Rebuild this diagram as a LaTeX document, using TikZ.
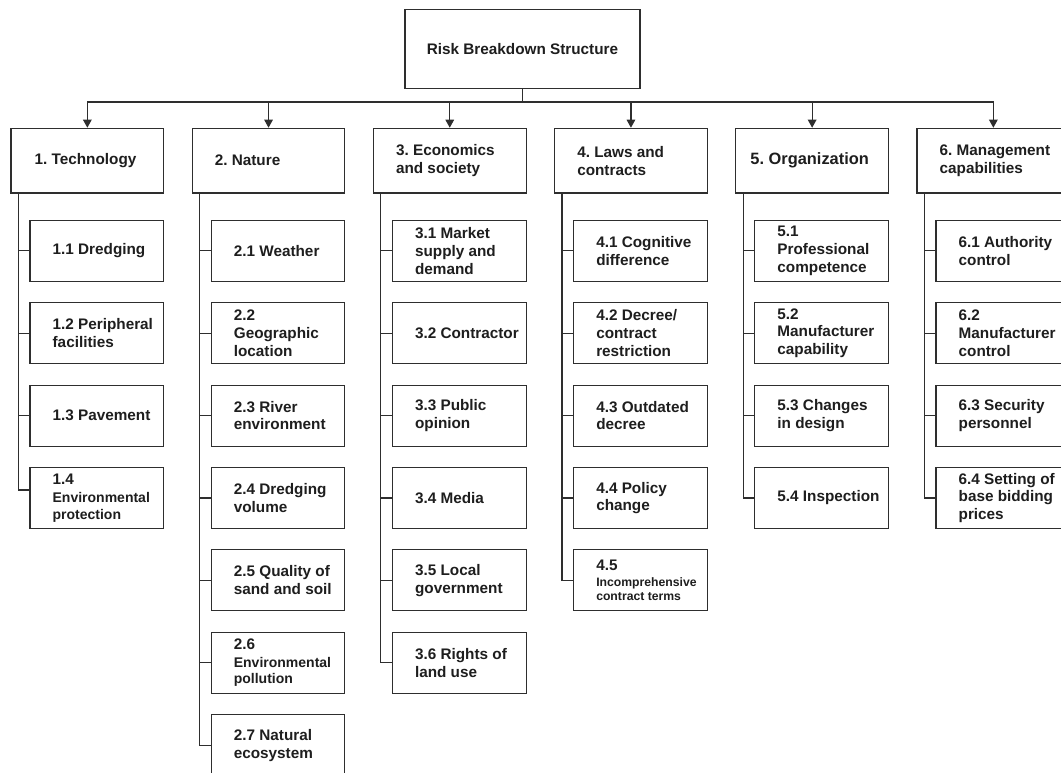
\documentclass[tikz,border=0pt]{standalone}
\usepackage{fontspec}
\setmainfont{Liberation Sans}
\usetikzlibrary{arrows.meta,calc}
\definecolor{ink}{HTML}{1E1E1E}
\definecolor{edge}{HTML}{2E2E2E}
\frenchspacing
% reduced sizes for the long words in a few boxes
\newcommand{\smallertext}[1]{{\fontsize{14}{16}\selectfont #1}}
\newcommand{\smallesttext}[1]{{\fontsize{12.2}{14}\selectfont #1}}
\begin{document}
\begin{tikzpicture}[x=1pt,y=-1pt,
  box/.style={draw=edge, line width=1.1pt, fill=white, inner sep=0pt},
  rootbox/.style={box, minimum width=235pt, minimum height=79pt},
  catbox/.style={box, minimum width=152.7pt, minimum height=64.7pt},
  subbox/.style={box, minimum width=133.7pt, minimum height=61pt},
  lbl/.style={anchor=west, align=left, inner sep=0pt, text=ink,
              font=\fontsize{15.3}{17.8}\selectfont\bfseries},
  link/.style={draw=edge, line width=1.2pt},
  arr/.style={link, -{Triangle[length=8pt,width=8.5pt]}},
]
\useasboundingbox (0,0) rectangle (1061,773);
\clip (0,0) rectangle (1061,773);

% root
\node[rootbox] (root) at (522.5,48.8) {};
\node[lbl, anchor=center] (troot) at (root.center) {Risk Breakdown Structure};

% the six categories
\foreach \i in {1,...,6} {
  \pgfmathsetmacro\cx{87.35+181.2*(\i-1)}
  \node[catbox] (c\i) at (\cx,160.65) {};
}

% sub-items of every category
\foreach \i/\n in {1/4,2/7,3/6,4/5,5/4,6/4} {
  \foreach \k in {1,...,\n} {
    \pgfmathsetmacro\bx{96.85+181.2*(\i-1)}
    \pgfmathsetmacro\by{250.8+82.4*(\k-1)}
    \node[subbox] (b\i\k) at (\bx,\by) {};
  }
}

% connectors from the root to the categories
\coordinate (bus) at ([yshift=-13.2pt]root.south);
\draw[link] (root.south) -- (bus);
\foreach \i in {1,...,6} \draw[arr] (bus) -| (c\i.north);

% spines and ticks
\coordinate (s1) at ([xshift=8pt]c1.south west);
\draw[link] (s1) |- ([yshift=8pt]b14.west);
\foreach \k in {1,2,3} \draw[link] (b1\k.west) -- (b1\k.west -| s1);
\foreach \i/\n in {2/7,3/6,4/5,5/4,6/4} {
  \coordinate (s\i) at ([xshift=8pt]c\i.south west);
  \draw[link] (s\i) |- (b\i\n.west);
  \pgfmathtruncatemacro\m{\n-1}
  \foreach \k in {1,...,\m} \draw[link] (b\i\k.west) -- (b\i\k.west -| s\i);
}

% category labels
\node[lbl] (t1) at ([xshift=24pt]c1.west) {1. Technology};
\node[lbl] (t2) at ([xshift=23pt]c2.west) {2. Nature};
\node[lbl] (t3) at ([xshift=23pt]c3.west) {3. Economics\\and society};
\node[lbl] (t4) at ([xshift=23pt]c4.west) {4. Laws and\\contracts};
\node[lbl, font=\fontsize{16.4}{18.9}\selectfont\bfseries] (t5) at ([xshift=15pt]c5.west) {5. Organization};
\node[lbl] (t6) at ([xshift=23pt]c6.west) {6. Management\\capabilities};

% item labels
\node[lbl] (t11) at ([xshift=23pt]b11.west) {1.1 Dredging};
\node[lbl] (t12) at ([xshift=23pt]b12.west) {1.2 Peripheral\\facilities};
\node[lbl] (t13) at ([xshift=23pt]b13.west) {1.3 Pavement};
\node[lbl] (t14) at ([xshift=23pt]b14.west) {1.4\\\smallertext{Environmental}\\[-1pt]\smallertext{protection}};

\node[lbl] (t21) at ([xshift=23pt]b21.west) {2.1 Weather};
\node[lbl] (t22) at ([xshift=23pt]b22.west) {2.2\\Geographic\\location};
\node[lbl] (t23) at ([xshift=23pt]b23.west) {2.3 River\\environment};
\node[lbl] (t24) at ([xshift=23pt]b24.west) {2.4 Dredging\\volume};
\node[lbl] (t25) at ([xshift=23pt]b25.west) {2.5 Quality of\\sand and soil};
\node[lbl] (t26) at ([xshift=23pt]b26.west) {2.6\\\smallertext{Environmental}\\[-1pt]\smallertext{pollution}};
\node[lbl] (t27) at ([xshift=23pt]b27.west) {2.7 Natural\\ecosystem};

\node[lbl] (t31) at ([xshift=23pt]b31.west) {3.1 Market\\supply and\\demand};
\node[lbl] (t32) at ([xshift=23pt]b32.west) {3.2 Contractor};
\node[lbl] (t33) at ([xshift=23pt]b33.west) {3.3 Public\\opinion};
\node[lbl] (t34) at ([xshift=23pt]b34.west) {3.4 Media};
\node[lbl] (t35) at ([xshift=23pt]b35.west) {3.5 Local\\government};
\node[lbl] (t36) at ([xshift=23pt]b36.west) {3.6 Rights of\\land use};

\node[lbl] (t41) at ([xshift=23pt]b41.west) {4.1 Cognitive\\difference};
\node[lbl] (t42) at ([xshift=23pt]b42.west) {4.2 Decree/\\contract\\restriction};
\node[lbl] (t43) at ([xshift=23pt]b43.west) {4.3 Outdated\\decree};
\node[lbl] (t44) at ([xshift=23pt]b44.west) {4.4 Policy\\change};
\node[lbl] (t45) at ([xshift=23pt]b45.west) {4.5\\[-1.6pt]\smallesttext{Incomprehensive}\\[-3.6pt]\smallesttext{contract terms}};

\node[lbl] (t51) at ([xshift=23pt]b51.west) {5.1\\Professional\\competence};
\node[lbl] (t52) at ([xshift=23pt]b52.west) {5.2\\Manufacturer\\capability};
\node[lbl] (t53) at ([xshift=23pt]b53.west) {5.3 Changes\\in design};
\node[lbl] (t54) at ([xshift=23pt]b54.west) {5.4 Inspection};

\node[lbl] (t61) at ([xshift=23pt]b61.west) {6.1 Authority\\control};
\node[lbl] (t62) at ([xshift=23pt]b62.west) {6.2\\Manufacturer\\control};
\node[lbl] (t63) at ([xshift=23pt]b63.west) {6.3 Security\\personnel};
\node[lbl] (t64) at ([xshift=23pt]b64.west) {6.4 Setting of\\base bidding\\prices};
\end{tikzpicture}
\end{document}
